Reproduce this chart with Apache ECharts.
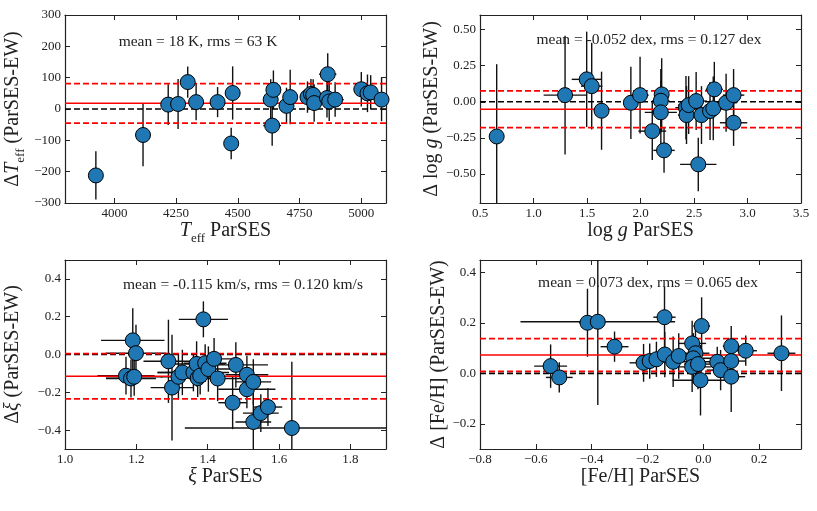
<!DOCTYPE html>
<html>
<head>
<meta charset="utf-8">
<script src="https://cdn.jsdelivr.net/npm/echarts@6/dist/echarts.min.js"></script>
<style>
html,body{margin:0;padding:0;background:#fff;}
#chart{width:817px;height:511px;}
</style>
</head>
<body>
<div id="chart"></div>
<script>
// Teff panel
var teffX = [3925, 4116, 4218, 4258, 4297, 4331, 4418, 4479, 4473, 4633, 4644, 4639, 4697, 4712, 4782, 4796, 4805, 4809, 4864, 4861, 4870, 4894, 5000, 5025, 5038, 5082];
var teffY = [-212, -83, 14, 16, 86, 22, 22, 51, -110, 30, 61, -53, 10, 38, 38, 48, 45, 19, 111, 35, 24, 30, 63, 50, 53, 30];
var teffXErr = [20, 20, 20, 20, 25, 25, 20, 25, 25, 30, 30, 36, 25, 25, 30, 30, 30, 30, 35, 30, 30, 35, 30, 30, 30, 30];
var teffYErr = [77, 100, 65, 80, 50, 58, 48, 85, 50, 65, 62, 64, 58, 87, 50, 48, 50, 60, 67, 62, 62, 55, 55, 60, 55, 69];
// log g panel
var loggX = [0.656, 1.295, 1.497, 1.544, 1.636, 1.91, 1.996, 2.11, 2.198, 2.19, 2.19, 2.22, 2.425, 2.43, 2.45, 2.52, 2.54, 2.57, 2.65, 2.68, 2.69, 2.80, 2.87, 2.87];
var loggY = [-0.24, 0.046, 0.155, 0.108, -0.062, -0.007, 0.046, -0.203, 0.051, 0.007, -0.073, -0.336, -0.041, -0.092, -0.023, 0.005, -0.433, -0.092, -0.064, -0.046, 0.086, -0.007, 0.046, -0.145];
var loggXErr = [0.03, 0.2, 0.14, 0.1, 0.07, 0.06, 0.08, 0.13, 0.06, 0.08, 0.15, 0.1, 0.1, 0.08, 0.1, 0.1, 0.17, 0.08, 0.08, 0.08, 0.08, 0.1, 0.1, 0.128];
var loggYErr = [0.5, 0.41, 0.33, 0.30, 0.27, 0.25, 0.265, 0.2, 0.25, 0.22, 0.22, 0.155, 0.22, 0.2, 0.2, 0.2, 0.185, 0.2, 0.2, 0.22, 0.19, 0.2, 0.18, 0.16];
// microturbulence panel
var xiX = [1.171, 1.185, 1.194, 1.19, 1.199, 1.29, 1.30, 1.318, 1.329, 1.36, 1.369, 1.372, 1.379, 1.388, 1.393, 1.402, 1.418, 1.428, 1.47, 1.479, 1.51, 1.51, 1.528, 1.528, 1.549, 1.569, 1.636];
var xiY = [-0.112, -0.127, -0.118, 0.075, 0.007, -0.036, -0.175, -0.118, -0.095, -0.095, -0.05, -0.125, -0.112, 0.186, -0.046, -0.077, -0.023, -0.127, -0.255, -0.055, -0.107, -0.184, -0.145, -0.357, -0.31, -0.278, -0.389];
var xiXErr = [0.08, 0.07, 0.08, 0.089, 0.085, 0.07, 0.06, 0.05, 0.07, 0.1, 0.08, 0.06, 0.06, 0.069, 0.06, 0.08, 0.06, 0.08, 0.04, 0.09, 0.06, 0.08, 0.05, 0.05, 0.05, 0.04, 0.3];
var xiYErr = [0.1, 0.1, 0.1, 0.17, 0.15, 0.22, 0.28, 0.12, 0.12, 0.1, 0.12, 0.1, 0.1, 0.095, 0.1, 0.12, 0.11, 0.12, 0.14, 0.12, 0.1, 0.1, 0.12, 0.17, 0.1, 0.1, 0.35];
// [Fe/H] panel
var fehX = [-0.547, -0.516, -0.415, -0.378, -0.318, -0.214, -0.192, -0.168, -0.139, -0.138, -0.108, -0.088, -0.04, -0.028, -0.036, -0.04, -0.019, -0.01, -0.006, 0.05, 0.062, 0.10, 0.10, 0.10, 0.152, 0.28];
var fehY = [0.029, -0.016, 0.201, 0.205, 0.106, 0.042, 0.049, 0.056, 0.223, 0.075, 0.046, 0.069, 0.119, 0.08, 0.06, 0.026, 0.037, -0.027, 0.188, 0.046, 0.013, 0.108, 0.049, -0.013, 0.09, 0.08];
var fehXErr = [0.059, 0.048, 0.03, 0.277, 0.05, 0.05, 0.05, 0.05, 0.04, 0.04, 0.07, 0.05, 0.05, 0.05, 0.08, 0.07, 0.05, 0.1, 0.03, 0.06, 0.05, 0.03, 0.05, 0.05, 0.04, 0.05];
var fehYErr = [0.086, 0.06, 0.135, 0.33, 0.06, 0.075, 0.07, 0.07, 0.12, 0.09, 0.1, 0.09, 0.09, 0.1, 0.1, 0.1, 0.1, 0.14, 0.114, 0.06, 0.08, 0.08, 0.08, 0.14, 0.06, 0.15];

// mean / rms of the differences
var means = [18, -0.052, -0.115, 0.073];
var rmss = [63, 0.127, 0.120, 0.065];
var statText = ['mean = 18 K, rms = 63 K', 'mean = -0.052 dex, rms = 0.127 dex', 'mean = -0.115 km/s, rms = 0.120 km/s', 'mean = 0.073 dex, rms = 0.065 dex'];

// ticks
var teffXTicks = [4000, 4250, 4500, 4750, 5000];
var teffYTicks = [-300, -200, -100, 0, 100, 200, 300];
var loggXTicks = [0.5, 1.0, 1.5, 2.0, 2.5, 3.0, 3.5];
var loggYTicks = [-0.5, -0.25, 0, 0.25, 0.5];
var xiXTicks = [1.0, 1.2, 1.4, 1.6, 1.8];
var xiYTicks = [-0.4, -0.2, 0, 0.2, 0.4];
var fehXTicks = [-0.8, -0.6, -0.4, -0.2, 0, 0.2];
var fehYTicks = [-0.2, 0, 0.2, 0.4];

var F = 'Liberation Serif';
var TXT = '#222';

var grids = [
    {left: 65, top: 15, width: 321, height: 188},
    {left: 480, top: 15, width: 321, height: 188},
    {left: 65, top: 260, width: 321, height: 189},
    {left: 480, top: 260, width: 321, height: 189}
];
var panels = [
    {x: teffX, y: teffY, xe: teffXErr, ye: teffYErr, xr: [3800, 5100], yr: [-300, 300], xt: teffXTicks, yt: teffYTicks, xd: 0, yd: 0,
     xname: '{i|T}{s|eff}{n| ParSES}', yname: '{n|Δ}{i|T}{s|eff}{n| (ParSES-EW)}', ygap: 38, xgap: 12, tx: 198, ty: 42},
    {x: loggX, y: loggY, xe: loggXErr, ye: loggYErr, xr: [0.5, 3.5], yr: [-0.7, 0.6], xt: loggXTicks, yt: loggYTicks, xd: 1, yd: 2,
     xname: '{n|log }{i|g}{n| ParSES}', yname: '{n|Δ log }{i|g}{n| (ParSES-EW)}', ygap: 25, xgap: 12, tx: 649, ty: 40},
    {x: xiX, y: xiY, xe: xiXErr, ye: xiYErr, xr: [1.0, 1.9], yr: [-0.5, 0.5], xt: xiXTicks, yt: xiYTicks, xd: 1, yd: 1,
     xname: '{i|ξ}{n| ParSES}', yname: '{n|Δ}{i|ξ}{n| (ParSES-EW)}', ygap: 38, xgap: 14, tx: 243, ty: 285},
    {x: fehX, y: fehY, xe: fehXErr, ye: fehYErr, xr: [-0.8, 0.35], yr: [-0.3, 0.45], xt: fehXTicks, yt: fehYTicks, xd: 1, yd: 1,
     xname: '{n|[Fe/H] ParSES}', yname: '{n|Δ [Fe/H] (ParSES-EW)}', ygap: 25, xgap: 14, tx: 648, ty: 283}
];

function fmt(dec) {
    return function (v) {
        return Number(v).toFixed(dec).replace('-', '\u2212');
    };
}

var nameStyle = {
    fontFamily: F, fontSize: 20, color: TXT,
    rich: {
        n: {fontFamily: F, fontSize: 20, color: TXT, lineHeight: 28},
        i: {fontFamily: F, fontSize: 20, fontStyle: 'italic', color: TXT, lineHeight: 28},
        s: {fontFamily: F, fontSize: 13, color: TXT, lineHeight: 13, verticalAlign: 'bottom'}
    }
};

function axisCommon(ticks, dec, showLabel) {
    return {
        axisLine: {show: true, onZero: false, lineStyle: {color: '#222', width: 1.2}},
        axisTick: {show: true, inside: true, length: 5, customValues: ticks, lineStyle: {color: '#222', width: 1}},
        axisLabel: {show: showLabel, customValues: ticks, formatter: fmt(dec), fontFamily: F, fontSize: 13, color: TXT, margin: 4},
        splitLine: {show: false}
    };
}

function errRender(params, api) {
    var x = api.value(0), y = api.value(1), xe = api.value(2), ye = api.value(3);
    var l = api.coord([x - xe, y]), r = api.coord([x + xe, y]);
    var t = api.coord([x, y + ye]), b = api.coord([x, y - ye]);
    var st = {stroke: '#111', lineWidth: 1.4};
    return {
        type: 'group',
        children: [
            {type: 'line', shape: {x1: l[0], y1: l[1], x2: r[0], y2: r[1]}, style: st},
            {type: 'line', shape: {x1: t[0], y1: t[1], x2: b[0], y2: b[1]}, style: st}
        ]
    };
}

// horizontal reference line from one end of the x range to the other
function hline(i, xr, yv, color, type, width) {
    return {
        type: 'line',
        xAxisIndex: 2 * i, yAxisIndex: 2 * i,
        data: [[xr[0], yv], [xr[1], yv]],
        showSymbol: false, symbol: 'none', silent: true, z: 2,
        lineStyle: {color: color, type: type, width: width}
    };
}

var xAxes = [], yAxes = [], series = [], graphics = [];
panels.forEach(function (p, i) {
    var xb = axisCommon(p.xt, p.xd, true);
    xb.type = 'value'; xb.gridIndex = i; xb.position = 'bottom'; xb.min = p.xr[0]; xb.max = p.xr[1];
    xb.name = p.xname; xb.nameLocation = 'middle'; xb.nameGap = p.xgap; xb.nameTextStyle = nameStyle;
    xb.axisLabel.verticalAlign = 'top';
    var xtop = axisCommon(p.xt, p.xd, false);
    xtop.type = 'value'; xtop.gridIndex = i; xtop.position = 'top'; xtop.min = p.xr[0]; xtop.max = p.xr[1];
    xAxes.push(xb, xtop);

    var yl = axisCommon(p.yt, p.yd, true);
    yl.type = 'value'; yl.gridIndex = i; yl.position = 'left'; yl.min = p.yr[0]; yl.max = p.yr[1];
    yl.name = p.yname; yl.nameLocation = 'middle'; yl.nameGap = p.ygap; yl.nameRotate = 90; yl.nameTextStyle = nameStyle;
    var yr = axisCommon(p.yt, p.yd, false);
    yr.type = 'value'; yr.gridIndex = i; yr.position = 'right'; yr.min = p.yr[0]; yr.max = p.yr[1];
    yAxes.push(yl, yr);

    var rows = [], pts = [];
    for (var k = 0; k < p.x.length; k++) {
        rows.push([p.x[k], p.y[k], p.xe[k], p.ye[k]]);
        pts.push([p.x[k], p.y[k]]);
    }
    var dash = [6, 3];
    series.push({
        type: 'custom',
        xAxisIndex: 2 * i, yAxisIndex: 2 * i,
        renderItem: errRender,
        encode: {x: 0, y: 1},
        data: rows,
        clip: true,
        silent: true,
        z: 1
    });
    series.push(hline(i, p.xr, 0, '#000000', dash, 1.6));
    series.push(hline(i, p.xr, means[i], '#ff0000', 'solid', 1.5));
    series.push(hline(i, p.xr, means[i] + rmss[i], '#ff0000', dash, 1.8));
    series.push(hline(i, p.xr, means[i] - rmss[i], '#ff0000', dash, 1.8));
    series.push({
        type: 'scatter',
        xAxisIndex: 2 * i, yAxisIndex: 2 * i,
        data: pts,
        symbolSize: 15,
        itemStyle: {color: '#1f77b4', borderColor: '#000', borderWidth: 1, opacity: 1},
        z: 3
    });
    graphics.push({
        type: 'text', x: p.tx, y: p.ty, z: 10,
        style: {text: statText[i], fontFamily: F, fontSize: 15.5, fill: TXT, align: 'center', verticalAlign: 'middle'}
    });
});

var myChart = echarts.init(document.getElementById('chart'));
myChart.setOption({
    animation: false,
    backgroundColor: '#fff',
    grid: grids,
    xAxis: xAxes,
    yAxis: yAxes,
    series: series,
    graphic: graphics
});
</script>
</body>
</html>
